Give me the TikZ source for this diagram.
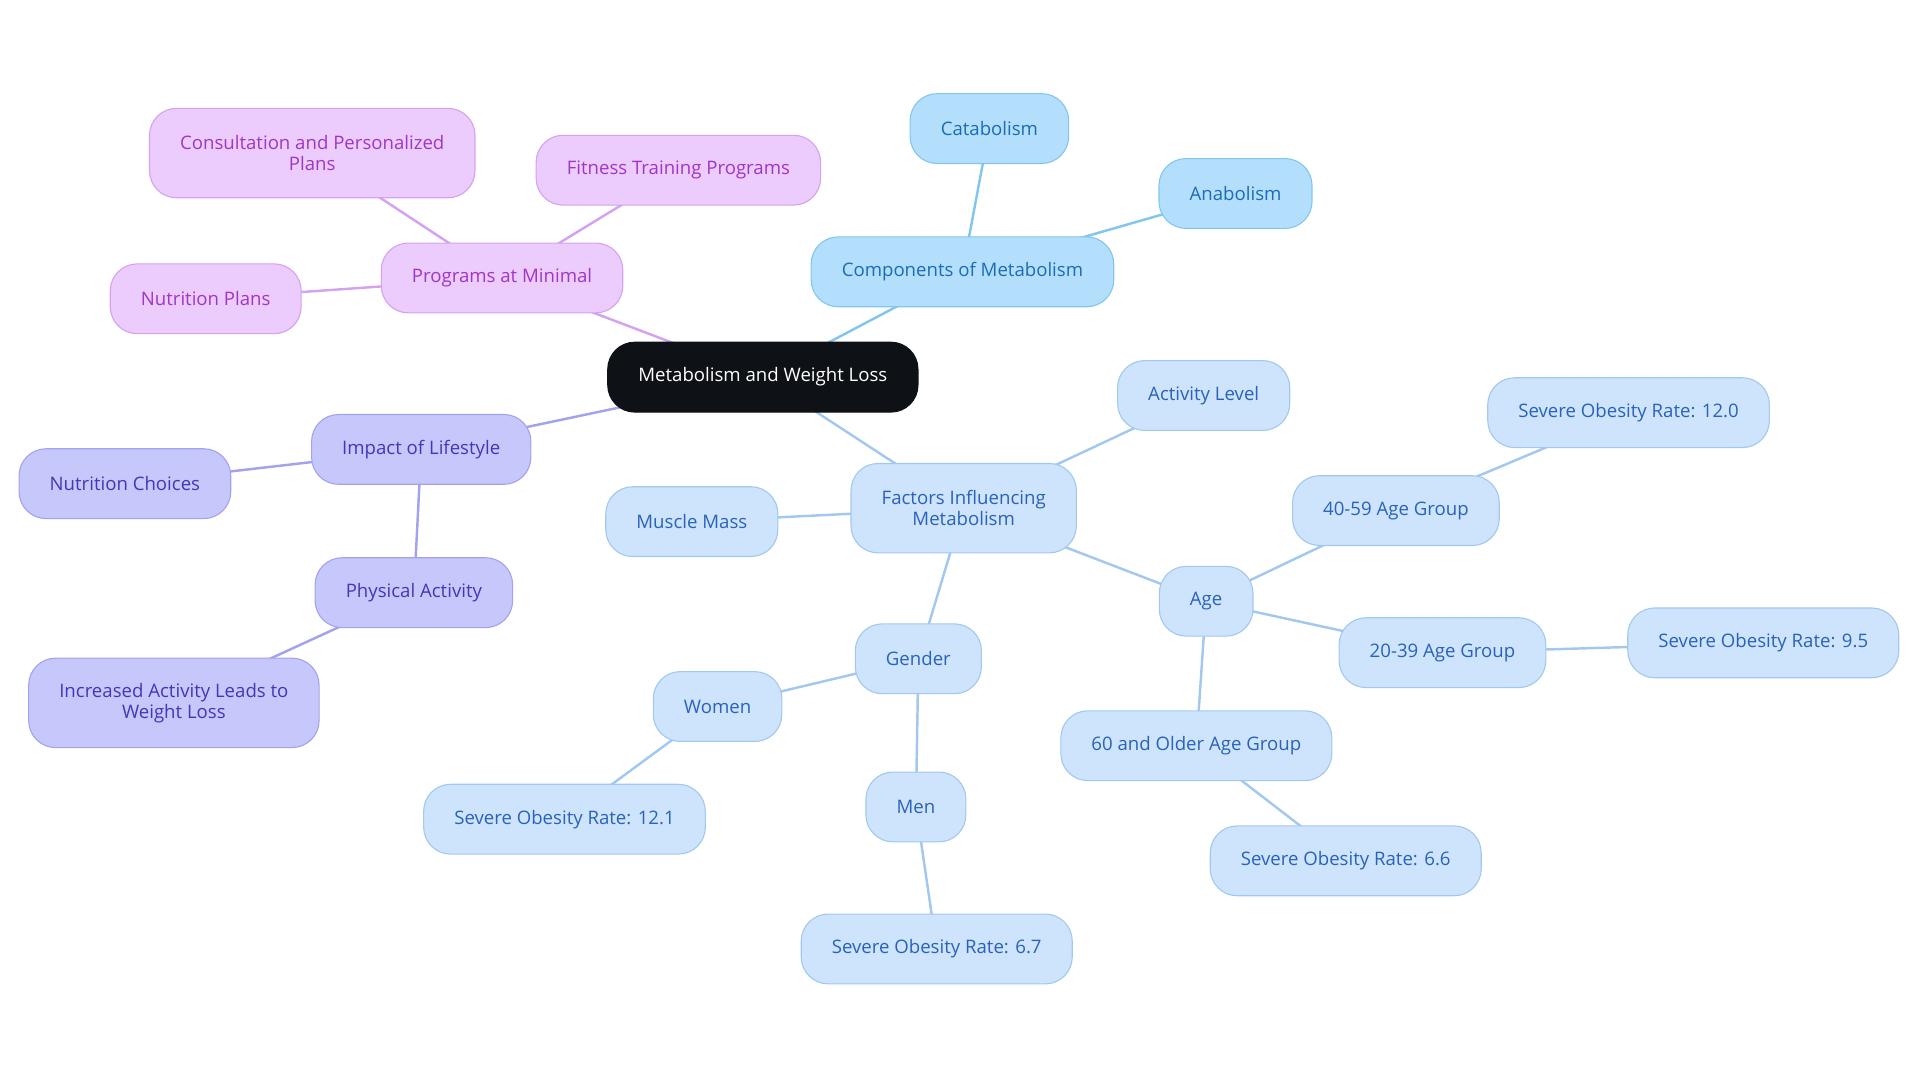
\documentclass[tikz,border=0pt]{standalone}
\usepackage{fontspec}
\setmainfont{Open Sans}
\usetikzlibrary{backgrounds}

\definecolor{rootfill}{HTML}{0E1217}
\definecolor{compfill}{HTML}{B4DFFC}
\definecolor{compdraw}{HTML}{82C6F0}
\definecolor{comptext}{HTML}{1A6DB4}
\definecolor{factfill}{HTML}{CDE4FC}
\definecolor{factdraw}{HTML}{A3C8F0}
\definecolor{facttext}{HTML}{2A62BA}
\definecolor{progfill}{HTML}{EBCCFC}
\definecolor{progdraw}{HTML}{D4A2F0}
\definecolor{progtext}{HTML}{A036C6}
\definecolor{lifefill}{HTML}{C6C8FC}
\definecolor{lifedraw}{HTML}{A2A2EE}
\definecolor{lifetext}{HTML}{4436B8}

\begin{document}
\begin{tikzpicture}[x=1pt, y=-1pt,
  every node/.style={rounded corners=22pt, minimum height=57pt, inner xsep=25pt,
    align=center, font=\fontsize{15.2}{17}\selectfont, line width=0.9pt},
  rootbox/.style={fill=rootfill, draw=rootfill, text=white},
  compbox/.style={fill=compfill, draw=compdraw, text=comptext},
  factbox/.style={fill=factfill, draw=factdraw, text=facttext},
  progbox/.style={fill=progfill, draw=progdraw, text=progtext},
  lifebox/.style={fill=lifefill, draw=lifedraw, text=lifetext},
  compedge/.style={draw=compdraw, line width=2pt},
  factedge/.style={draw=factdraw, line width=2pt},
  progedge/.style={draw=progdraw, line width=2pt},
  lifeedge/.style={draw=lifedraw, line width=2pt},
  ]
  \useasboundingbox (0,0) rectangle (1568,884);
  \node[rootbox] (root) at (623,308) {Metabolism and Weight Loss};
  % components
  \node[compbox] (comp) at (786,222) {Components of Metabolism};
  \node[compbox] (cata) at (808,105) {Catabolism};
  \node[compbox] (ana) at (1009,158) {Anabolism};
  % programs
  \node[progbox] (prog) at (410,227) {Programs at Minimal};
  \node[progbox, minimum height=73pt] (consult) at (255,125) {Consultation and Personalized\\Plans};
  \node[progbox] (fitness) at (554,139) {Fitness Training Programs};
  \node[progbox] (nutplan) at (168,244) {Nutrition Plans};
  % lifestyle
  \node[lifebox] (life) at (344,367) {Impact of Lifestyle};
  \node[lifebox] (nutchoice) at (102,395) {Nutrition Choices};
  \node[lifebox] (phys) at (338,484) {Physical Activity};
  \node[lifebox, minimum height=73pt] (incr) at (142,574) {Increased Activity Leads to\\Weight Loss};
  % factors
  \node[factbox, minimum height=73pt] (factors) at (787,415) {Factors Influencing\\Metabolism};
  \node[factbox] (actlvl) at (983,323) {Activity Level};
  \node[factbox] (muscle) at (565,426) {Muscle Mass};
  \node[factbox] (gender) at (750,538) {Gender};
  \node[factbox] (women) at (586,577) {Women};
  \node[factbox] (womenrate) at (461,669) {Severe Obesity Rate: 12.1};
  \node[factbox] (men) at (748,659) {Men};
  \node[factbox] (menrate) at (765,775) {Severe Obesity Rate: 6.7};
  \node[factbox] (age) at (985,491) {Age};
  \node[factbox] (midage) at (1140,417) {40-59 Age Group};
  \node[factbox] (midrate) at (1330,337) {Severe Obesity Rate: 12.0};
  \node[factbox] (youngage) at (1178,533) {20-39 Age Group};
  \node[factbox] (youngrate) at (1440,525) {Severe Obesity Rate: 9.5};
  \node[factbox] (oldage) at (977,609) {60 and Older Age Group};
  \node[factbox] (oldrate) at (1099,703) {Severe Obesity Rate: 6.6};
  \begin{pgfonlayer}{background}
    \draw[compedge] (root.center) -- (comp.center);
    \draw[compedge] (comp.center) -- (cata.center);
    \draw[compedge] (comp.center) -- (ana.center);
    \draw[progedge] (root.center) -- (prog.center);
    \draw[progedge] (prog.center) -- (consult.center);
    \draw[progedge] (prog.center) -- (fitness.center);
    \draw[progedge] (prog.center) -- (nutplan.center);
    \draw[lifeedge] (root.center) -- (life.center);
    \draw[lifeedge] (life.center) -- (nutchoice.center);
    \draw[lifeedge] (life.center) -- (phys.center);
    \draw[lifeedge] (phys.center) -- (incr.center);
    \draw[factedge] (root.center) -- (factors.center);
    \draw[factedge] (factors.center) -- (actlvl.center);
    \draw[factedge] (factors.center) -- (muscle.center);
    \draw[factedge] (factors.center) -- (gender.center);
    \draw[factedge] (gender.center) -- (women.center);
    \draw[factedge] (women.center) -- (womenrate.center);
    \draw[factedge] (gender.center) -- (men.center);
    \draw[factedge] (men.center) -- (menrate.center);
    \draw[factedge] (factors.center) -- (age.center);
    \draw[factedge] (age.center) -- (midage.center);
    \draw[factedge] (midage.center) -- (midrate.center);
    \draw[factedge] (age.center) -- (youngage.center);
    \draw[factedge] (youngage.center) -- (youngrate.center);
    \draw[factedge] (age.center) -- (oldage.center);
    \draw[factedge] (oldage.center) -- (oldrate.center);
  \end{pgfonlayer}
\end{tikzpicture}
\end{document}
